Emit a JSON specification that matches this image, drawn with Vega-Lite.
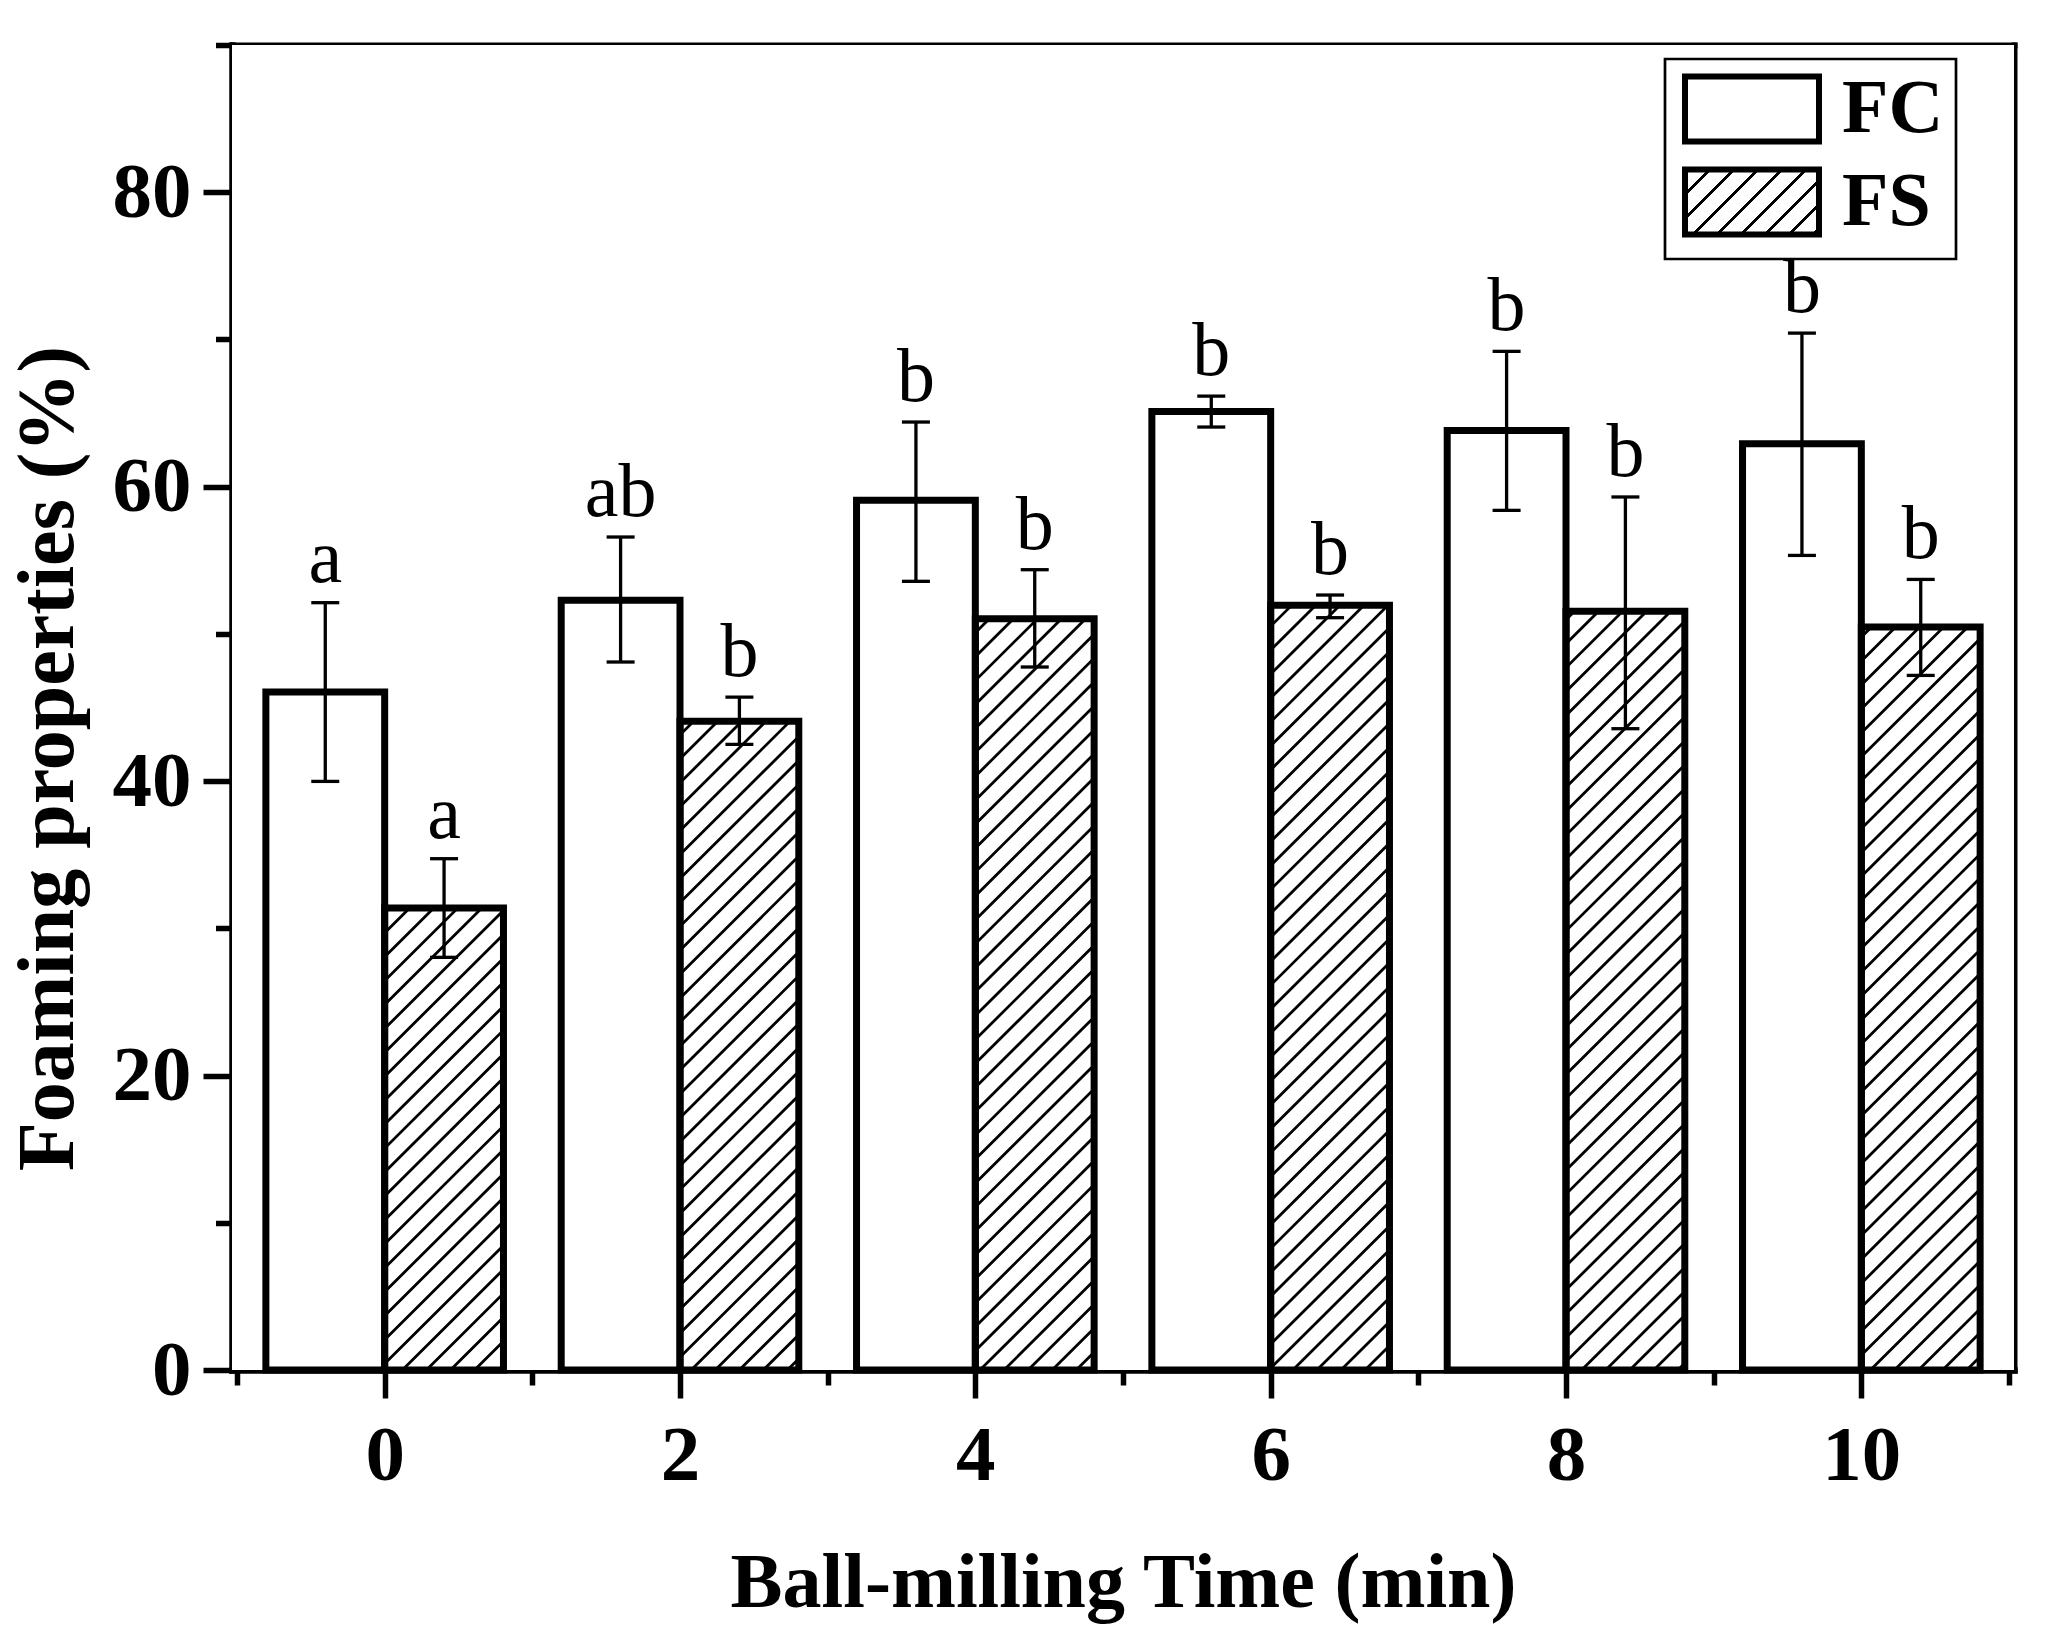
{
  "$schema": "https://vega.github.io/schema/vega-lite/v6.json",
  "width": 1782,
  "height": 1325,
  "autosize": {"type": "none"},
  "padding": {"left": 232, "top": 45, "right": 34, "bottom": 269},
  "background": "white",
  "data": {
    "values": [
      {"time": 0, "series": "FC", "value": 46.05, "lo": 39.98, "hi": 52.12, "letter": "a"},
      {"time": 2, "series": "FC", "value": 52.28, "lo": 48.09, "hi": 56.58, "letter": "ab"},
      {"time": 4, "series": "FC", "value": 59.07, "lo": 53.57, "hi": 64.39, "letter": "b"},
      {"time": 6, "series": "FC", "value": 65.11, "lo": 64.05, "hi": 66.15, "letter": "b"},
      {"time": 8, "series": "FC", "value": 63.82, "lo": 58.39, "hi": 69.19, "letter": "b"},
      {"time": 10, "series": "FC", "value": 62.92, "lo": 55.33, "hi": 70.43, "letter": "b"},
      {"time": 0, "series": "FS", "value": 31.38, "lo": 28.03, "hi": 34.73, "letter": "a"},
      {"time": 2, "series": "FS", "value": 44.06, "lo": 42.49, "hi": 45.71, "letter": "b"},
      {"time": 4, "series": "FS", "value": 51.03, "lo": 47.75, "hi": 54.36, "letter": "b"},
      {"time": 6, "series": "FS", "value": 51.94, "lo": 51.10, "hi": 52.64, "letter": "b"},
      {"time": 8, "series": "FS", "value": 51.53, "lo": 43.56, "hi": 59.30, "letter": "b"},
      {"time": 10, "series": "FS", "value": 50.46, "lo": 47.18, "hi": 53.70, "letter": "b"}
    ]
  },
  "layer": [
    {
      "data": {"values": [{}]},
      "mark": {"type": "rule", "clip": true, "stroke": "black", "strokeWidth": 2400, "strokeDash": [2.8, 14.17], "strokeCap": "butt"},
      "encoding": {
        "x": {"datum": -4.4276, "type": "quantitative", "scale": {"domain": [-1, 11], "nice": false, "zero": false}, "axis": null},
        "x2": {"datum": 14.4276},
        "y": {"datum": 140.094, "type": "quantitative", "scale": {"domain": [0, 90], "nice": false}, "axis": null},
        "y2": {"datum": -50.094}
      }
    },
    {
      "transform": [{"filter": "datum.series === 'FS'"}],
      "mark": {"type": "bar", "orient": "vertical", "fill": "white", "strokeWidth": 0, "width": 180, "xOffset": -89.1, "clip": true},
      "encoding": {
        "x": {"field": "time", "type": "quantitative", "axis": null},
        "y": {"datum": 90, "type": "quantitative", "axis": null},
        "y2": {"datum": 0}
      }
    },
    {
      "transform": [{"filter": "datum.series === 'FS'"}],
      "mark": {"type": "bar", "orient": "vertical", "fill": "white", "strokeWidth": 0, "width": 180, "xOffset": 207.9, "clip": true},
      "encoding": {
        "x": {"field": "time", "type": "quantitative", "axis": null},
        "y": {"datum": 90, "type": "quantitative", "axis": null},
        "y2": {"datum": 0}
      }
    },
    {
      "transform": [{"filter": "datum.series === 'FS'"}],
      "mark": {"type": "bar", "orient": "vertical", "fill": "white", "strokeWidth": 0, "width": 118.8, "xOffset": 59.4},
      "encoding": {
        "x": {"field": "time", "type": "quantitative", "axis": {"orient": "top", "ticks": false, "labels": false, "title": null, "domainWidth": 6}},
        "y": {"field": "value", "type": "quantitative", "axis": {"orient": "right", "ticks": false, "labels": false, "title": null, "domainWidth": 6}},
        "y2": {"datum": 90}
      }
    },
    {
      "transform": [{"filter": "datum.series === 'FC'"}],
      "mark": {"type": "bar", "orient": "vertical", "width": 118.8, "xOffset": -59.4, "stroke": "black", "strokeWidth": 7},
      "encoding": {
        "x": {
          "field": "time", "type": "quantitative",
          "axis": {"orient": "bottom", "values": [0, 2, 4, 6, 8, 10], "tickSize": 28, "labelPadding": 19, "labelFlush": false, "title": "Ball-milling Time (min)", "titleBaseline": "alphabetic", "titleY": 236}
        },
        "y": {
          "field": "value", "type": "quantitative",
          "axis": {"orient": "left", "values": [0, 20, 40, 60, 80], "tickSize": 29, "labelPadding": 12, "title": "Foaming properties (%)", "titleFontSize": 80, "titleAngle": 270, "titleAlign": "center", "titleBaseline": "alphabetic", "titleX": -160, "titleY": 713}
        },
        "fill": {
          "field": "series", "type": "nominal",
          "scale": {
            "domain": ["FC", "FS"],
            "range": [
              "white",
              {"expr": "{gradient: 'linear', x1: 0, y1: 0, x2: 1.2022, y2: 0.5832, stops: [{offset: 0, color: 'black'}, {offset: 0.0165, color: 'black'}, {offset: 0.0165, color: 'white'}, {offset: 0.1171, color: 'white'}, {offset: 0.1171, color: 'black'}, {offset: 0.1371, color: 'black'}, {offset: 0.1371, color: 'white'}, {offset: 0.2377, color: 'white'}, {offset: 0.2377, color: 'black'}, {offset: 0.2577, color: 'black'}, {offset: 0.2577, color: 'white'}, {offset: 0.3583, color: 'white'}, {offset: 0.3583, color: 'black'}, {offset: 0.3783, color: 'black'}, {offset: 0.3783, color: 'white'}, {offset: 0.4789, color: 'white'}, {offset: 0.4789, color: 'black'}, {offset: 0.4989, color: 'black'}, {offset: 0.4989, color: 'white'}, {offset: 0.5995, color: 'white'}, {offset: 0.5995, color: 'black'}, {offset: 0.6195, color: 'black'}, {offset: 0.6195, color: 'white'}, {offset: 0.7202, color: 'white'}, {offset: 0.7202, color: 'black'}, {offset: 0.7402, color: 'black'}, {offset: 0.7402, color: 'white'}, {offset: 0.8408, color: 'white'}, {offset: 0.8408, color: 'black'}, {offset: 0.8608, color: 'black'}, {offset: 0.8608, color: 'white'}, {offset: 0.9614, color: 'white'}, {offset: 0.9614, color: 'black'}, {offset: 0.9814, color: 'black'}, {offset: 0.9814, color: 'white'}, {offset: 1, color: 'white'}]}"}
            ]
          },
          "legend": {
            "title": null,
            "orient": "none",
            "legendX": 1433,
            "legendY": 14,
            "direction": "vertical",
            "padding": 12,
            "strokeColor": "black",
            "symbolType": "M-2,-0.97H2V0.97H-2Z",
            "symbolSize": 4489,
            "symbolStrokeColor": "black",
            "symbolStrokeWidth": 6,
            "symbolOpacity": 1,
            "symbolOffset": 37,
            "labelOffset": 52,
            "labelFont": "Liberation Serif",
            "labelFontWeight": "bold",
            "labelFontSize": 76,
            "labelColor": "black",
            "rowPadding": 3
          }
        }
      }
    },
    {
      "transform": [{"filter": "datum.series === 'FS'"}],
      "mark": {"type": "bar", "orient": "vertical", "width": 118.8, "xOffset": 59.4, "fill": "transparent", "stroke": "black", "strokeWidth": 7},
      "encoding": {
        "x": {"field": "time", "type": "quantitative", "axis": {"orient": "bottom", "values": [-1, 1, 3, 5, 7, 9, 11], "tickSize": 15, "labels": false, "domain": false, "title": null}},
        "y": {"field": "value", "type": "quantitative", "axis": {"orient": "left", "values": [10, 30, 50, 70, 90], "tickSize": 16.5, "labels": false, "domain": false, "title": null}}
      }
    },
    {
      "transform": [{"filter": "datum.series === 'FC'"}],
      "mark": {"type": "rule", "color": "black", "strokeWidth": 3.3, "xOffset": -59.4},
      "encoding": {
        "x": {"field": "time", "type": "quantitative", "axis": null},
        "y": {"field": "lo", "type": "quantitative", "axis": null},
        "y2": {"field": "hi"}
      }
    },
    {
      "transform": [{"filter": "datum.series === 'FS'"}],
      "mark": {"type": "rule", "color": "black", "strokeWidth": 3.3, "xOffset": 59.4},
      "encoding": {
        "x": {"field": "time", "type": "quantitative", "axis": null},
        "y": {"field": "lo", "type": "quantitative", "axis": null},
        "y2": {"field": "hi"}
      }
    },
    {
      "transform": [{"filter": "datum.series === 'FC'"}],
      "mark": {"type": "tick", "orient": "horizontal", "color": "black", "opacity": 1, "size": 28, "thickness": 3.3, "xOffset": -59.4},
      "encoding": {
        "x": {"field": "time", "type": "quantitative", "axis": null},
        "y": {"field": "lo", "type": "quantitative", "axis": null}
      }
    },
    {
      "transform": [{"filter": "datum.series === 'FC'"}],
      "mark": {"type": "tick", "orient": "horizontal", "color": "black", "opacity": 1, "size": 28, "thickness": 3.3, "xOffset": -59.4},
      "encoding": {
        "x": {"field": "time", "type": "quantitative", "axis": null},
        "y": {"field": "hi", "type": "quantitative", "axis": null}
      }
    },
    {
      "transform": [{"filter": "datum.series === 'FS'"}],
      "mark": {"type": "tick", "orient": "horizontal", "color": "black", "opacity": 1, "size": 28, "thickness": 3.3, "xOffset": 59.4},
      "encoding": {
        "x": {"field": "time", "type": "quantitative", "axis": null},
        "y": {"field": "lo", "type": "quantitative", "axis": null}
      }
    },
    {
      "transform": [{"filter": "datum.series === 'FS'"}],
      "mark": {"type": "tick", "orient": "horizontal", "color": "black", "opacity": 1, "size": 28, "thickness": 3.3, "xOffset": 59.4},
      "encoding": {
        "x": {"field": "time", "type": "quantitative", "axis": null},
        "y": {"field": "hi", "type": "quantitative", "axis": null}
      }
    },
    {
      "transform": [{"filter": "datum.series === 'FC'"}],
      "mark": {"type": "text", "font": "Liberation Serif", "fontSize": 76, "color": "black", "baseline": "alphabetic", "dy": -21, "xOffset": -59.4},
      "encoding": {
        "x": {"field": "time", "type": "quantitative", "axis": null},
        "y": {"field": "hi", "type": "quantitative", "axis": null},
        "text": {"field": "letter"}
      }
    },
    {
      "transform": [{"filter": "datum.series === 'FS'"}],
      "mark": {"type": "text", "font": "Liberation Serif", "fontSize": 76, "color": "black", "baseline": "alphabetic", "dy": -21, "xOffset": 59.4},
      "encoding": {
        "x": {"field": "time", "type": "quantitative", "axis": null},
        "y": {"field": "hi", "type": "quantitative", "axis": null},
        "text": {"field": "letter"}
      }
    }
  ],
  "resolve": {"axis": {"x": "independent", "y": "independent"}},
  "config": {
    "view": {"stroke": null},
    "legend": {"strokeWidth": 2.7},
    "axis": {
      "zindex": 1,
      "grid": false,
      "domainColor": "black",
      "domainWidth": 6.5,
      "domainCap": "square",
      "tickColor": "black",
      "tickWidth": 5.5,
      "labelColor": "black",
      "labelFont": "Liberation Serif",
      "labelFontWeight": "bold",
      "labelFontSize": 79,
      "labelOverlap": false,
      "titleColor": "black",
      "titleFont": "Liberation Serif",
      "titleFontWeight": "bold",
      "titleFontSize": 78
    }
  }
}
